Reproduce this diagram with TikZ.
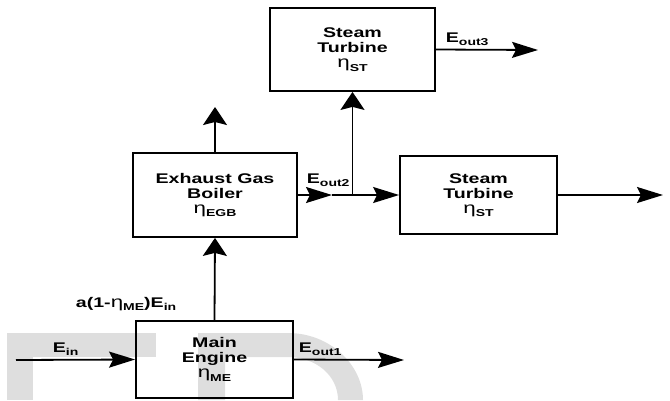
\documentclass[tikz,border=0pt]{standalone}
\usepackage{fontspec}
\newfontfamily\lblfont[FakeStretch=1.4]{Liberation Sans}
\usetikzlibrary{arrows.meta}
\newcommand{\lo}[1]{\raisebox{-3.5pt}{\fontsize{10}{10}\selectfont#1}}
\newcommand{\effc}{{\mdseries\fontsize{16}{15}\selectfont η}}

\begin{document}
\begin{tikzpicture}[x=1pt,y=-1pt,line width=1.8pt,line join=miter,
  blk/.style={draw,align=center,inner sep=0pt,
    font=\lblfont\bfseries\fontsize{14}{15}\selectfont},
  lbl/.style={anchor=base west,inner sep=0pt,
    font=\lblfont\bfseries\fontsize{14}{15}\selectfont},
  harr/.style={-{Stealth[length=26pt,width=16pt,inset=4pt]}},
  varr/.style={-{Stealth[length=18pt,width=24pt,inset=3pt]}},
  wm/.style={fill=black!13}]
  \useasboundingbox (0,0) rectangle (670,400);
  % watermark
  \begin{scope}
    \clip (0,0) rectangle (670,400);
    \fill[wm] (7,333) rectangle (156,357);
    \fill[wm] (7,357) rectangle (33,400);
    \fill[wm] (198,400) -- (198,333) -- (288,333) .. controls (330,333) and (363,365) .. (363,400)
      -- (338,400) .. controls (338,375) and (315,357) .. (288,357) -- (225,357) -- (225,400) -- cycle;
  \end{scope}
  % blocks
  \node[blk,minimum width=157pt,minimum height=77pt] (me) at (214.5,359.5) {Main\\Engine\\\effc\lo{ME}};
  \node[blk,minimum width=164pt,minimum height=84pt] (egb) at (215,195) {Exhaust Gas\\Boiler\\\effc\lo{EGB}};
  \node[blk,minimum width=165pt,minimum height=83pt] (st1) at (352.5,49.5) {Steam\\Turbine\\\effc\lo{ST}};
  \node[blk,minimum width=157pt,minimum height=78pt] (st2) at (478.5,195) {Steam\\Turbine\\\effc\lo{ST}};
  % free ends
  \coordinate (ein) at (16,360);
  \coordinate (eout1) at (404,360);
  \coordinate (stack) at (215,107);
  \coordinate (split) at (332,195);
  \coordinate (eout3) at (538,50);
  \coordinate (stout) at (663,195);
  % flows
  \draw[harr] (ein) -- (me.west);
  \draw[harr] (me.east) -- (eout1);
  \draw[varr] (me.north) -- (egb.south);
  \draw[varr] (egb.north) -- (stack);
  \draw[harr] (egb.east) -- (split);
  \draw[harr] (split) -- (st2.west);
  \draw[varr] (st1.south |- split) -- (st1.south);
  \draw[harr] (st1.east) -- (eout3);
  \draw[harr] (st2.east) -- (stout);
  % labels
  \node[lbl] (lin) at (52,352) {E\lo{in}};
  \node[lbl] (lout1) at (298,352) {E\lo{out1}};
  \node[lbl] (lout2) at (306,183) {E\lo{out2}};
  \node[lbl] (lout3) at (445,42) {E\lo{out3}};
  \node[lbl] (lloss) at (75,307) {a(1-\effc\lo{ME})E\lo{in}};
\end{tikzpicture}
\end{document}
